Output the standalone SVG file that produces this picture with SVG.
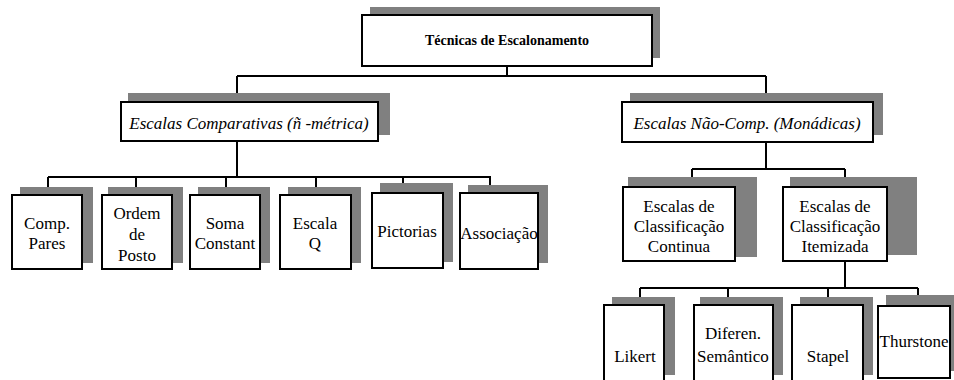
<svg xmlns="http://www.w3.org/2000/svg" width="954" height="380" viewBox="0 0 954 380">
<style>
.sh{fill:#808080;stroke:none}
.bx{fill:#fff;stroke:#000;stroke-width:2}
.t{font-family:'Liberation Serif','Times New Roman','DejaVu Serif',serif;font-size:17px;fill:#000;text-anchor:middle}
.it{font-style:italic}
.b{font-weight:bold;font-size:14px}
.cn{fill:none;stroke:#000;stroke-width:2}
</style>
<rect width="954" height="380" fill="#fff"/>
<g id="connectors">
<path class="cn" d="M507 66V76M237 76H766M237 76V102M766 76V102"/>
<path class="cn" d="M237 141V177M48 177H491M48 177V195M136 177V195M226 177V195M316 177V195M403 177V193M490 177V196"/>
<path class="cn" d="M766 142V169M692 169H845M692 169V187M845 169V187"/>
<path class="cn" d="M845 261V288M640 288H918M640 288V305M728 288V305M828 288V305M918 288V306"/>
</g>
<g id="n-tecnicas">
<rect class="sh" x="370" y="7" width="290" height="51"/>
<rect class="bx" x="362" y="15" width="290" height="51"/>
<text class="t b" x="507" y="45">Técnicas de Escalonamento</text>
</g>
<g id="n-comparativas">
<rect class="sh" x="128" y="93" width="262" height="42"/>
<rect class="bx" x="121" y="102" width="257" height="39"/>
<text class="t it" x="249" y="129">Escalas Comparativas (ñ -métrica)</text>
</g>
<g id="n-naocomp">
<rect class="sh" x="630" y="93" width="253" height="42"/>
<rect class="bx" x="622" y="102" width="251" height="40"/>
<text class="t it" x="747" y="129">Escalas Não-Comp. (Monádicas)</text>
</g>
<g id="n-comp-pares">
<rect class="sh" x="20" y="187" width="73" height="76"/>
<rect class="bx" x="12" y="195" width="70" height="74"/>
<text class="t" x="47" y="229">Comp.</text>
<text class="t" x="47" y="249">Pares</text>
</g>
<g id="n-ordem">
<rect class="sh" x="108" y="187" width="75" height="76"/>
<rect class="bx" x="102" y="195" width="70" height="74"/>
<text class="t" x="137" y="219">Ordem</text>
<text class="t" x="137" y="240">de</text>
<text class="t" x="137" y="261">Posto</text>
</g>
<g id="n-soma">
<rect class="sh" x="198" y="187" width="72" height="76"/>
<rect class="bx" x="190" y="195" width="70" height="74"/>
<text class="t" x="225" y="229">Soma</text>
<text class="t" x="225" y="249">Constant</text>
</g>
<g id="n-escala-q">
<rect class="sh" x="288" y="187" width="73" height="76"/>
<rect class="bx" x="280" y="195" width="71" height="74"/>
<text class="t" x="315" y="229">Escala</text>
<text class="t" x="315" y="249">Q</text>
</g>
<g id="n-pictorias">
<rect class="sh" x="380" y="183" width="73" height="79"/>
<rect class="bx" x="372" y="193" width="71" height="75"/>
<text class="t" x="407" y="237">Pictorias</text>
</g>
<g id="n-associacao">
<rect class="sh" x="468" y="185" width="80" height="78"/>
<rect class="bx" x="460" y="193" width="78" height="76"/>
<text class="t" x="499" y="239">Associação</text>
</g>
<g id="n-continua">
<rect class="sh" x="628" y="177" width="129" height="80"/>
<rect class="bx" x="623" y="187" width="112" height="74"/>
<text class="t" x="679" y="212">Escalas de</text>
<text class="t" x="679" y="232">Classificação</text>
<text class="t" x="679" y="252">Continua</text>
</g>
<g id="n-itemizada">
<rect class="sh" x="790" y="177" width="127" height="78"/>
<rect class="bx" x="783" y="187" width="104" height="74"/>
<text class="t" x="835" y="212">Escalas de</text>
<text class="t" x="835" y="232">Classificação</text>
<text class="t" x="835" y="252">Itemizada</text>
</g>
<g id="n-likert">
<rect class="sh" x="612" y="297" width="63" height="78"/>
<rect class="bx" x="604" y="305" width="60" height="80"/>
<text class="t" x="635" y="362">Likert</text>
</g>
<g id="n-diferen">
<rect class="sh" x="700" y="297" width="83" height="78"/>
<rect class="bx" x="694" y="305" width="79" height="80"/>
<text class="t" x="733" y="339">Diferen.</text>
<text class="t" x="733" y="362">Semântico</text>
</g>
<g id="n-stapel">
<rect class="sh" x="800" y="297" width="73" height="78"/>
<rect class="bx" x="792" y="305" width="71" height="80"/>
<text class="t" x="828" y="362">Stapel</text>
</g>
<g id="n-thurstone">
<rect class="sh" x="886" y="295" width="70" height="76"/>
<rect class="bx" x="878" y="306" width="72" height="72"/>
<text class="t" x="914" y="347">Thurstone</text>
</g>
</svg>
